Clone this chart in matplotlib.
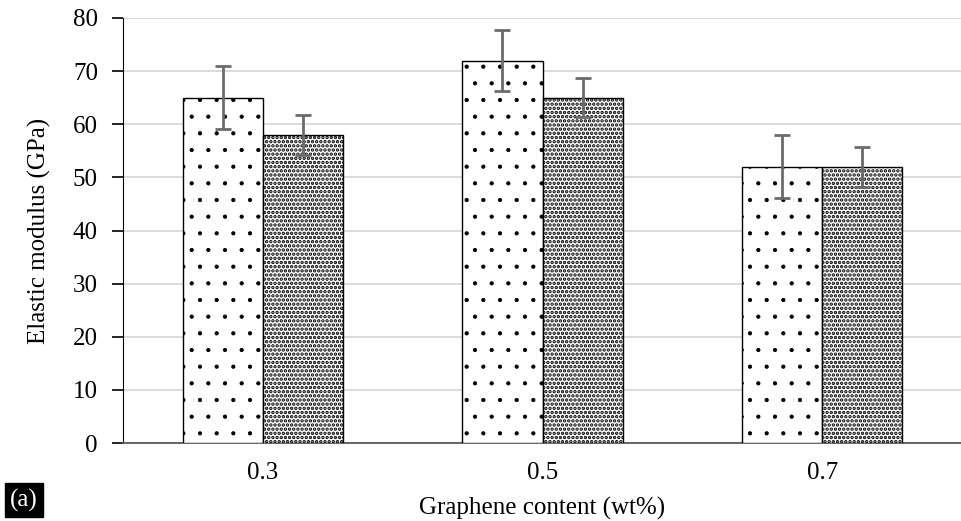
import numpy as np
import matplotlib
matplotlib.use("Agg")
import matplotlib.pyplot as plt

categories = ["0.3", "0.5", "0.7"]
series_a = [65, 72, 52]
series_a_err = [5.9, 5.8, 5.9]
series_b = [58, 65, 52]
series_b_err = [3.8, 3.7, 3.8]

plt.rcParams["font.family"] = ["Liberation Serif", "DejaVu Serif"]

fig = plt.figure(figsize=(9.62, 5.21), dpi=100)
ax = fig.add_axes([123 / 962, 1 - 443 / 521, (962 - 123) / 962, (443 - 18) / 521])

x = np.arange(len(categories))
width = 0.287
err_kw = dict(ecolor="#6b6b6b", elinewidth=2, capsize=6, capthick=2, zorder=5)


def hatched_bars(pos, vals, errs, hatch, hlw):
    plt.rcParams["hatch.linewidth"] = hlw
    bars = ax.bar(pos, vals, width, color="white", edgecolor="black",
                  linewidth=1, hatch=hatch, yerr=errs, error_kw=err_kw, zorder=3)
    for b in bars:
        if hasattr(b, "set_hatch_linewidth"):
            b.set_hatch_linewidth(hlw)
    return bars


hatched_bars(x - width / 2, series_a, series_a_err, ".", 0.6)
hatched_bars(x + width / 2, series_b, series_b_err, "....", 1.7)

ax.set_xlim(-0.5, len(categories) - 0.5)
ax.set_ylim(0, 80)
ax.set_yticks(range(0, 81, 10))
ax.set_xticks(x)
ax.set_xticklabels(categories)
ax.yaxis.grid(True, color="#d9d9d9", linewidth=1.3, zorder=0)
ax.set_axisbelow(True)

for s in ["top", "right"]:
    ax.spines[s].set_visible(False)
ax.spines["left"].set_color("black")
ax.spines["bottom"].set_color("#595959")
ax.spines["bottom"].set_linewidth(1.3)
ax.tick_params(axis="y", length=8, width=1.2, labelsize=18, pad=10)
ax.tick_params(axis="x", length=0, labelsize=18, pad=14)

ax.set_xlabel("Graphene content (wt%)", fontsize=18, labelpad=9)
ax.set_ylabel("Elastic modulus (GPa)", fontsize=18, labelpad=16)

fig.text(10 / 962, 1 - 500 / 521, "(a)", color="white", fontsize=18,
         va="center", ha="left",
         bbox=dict(facecolor="black", edgecolor="black", pad=4))

fig.savefig("out.png", dpi=100)
